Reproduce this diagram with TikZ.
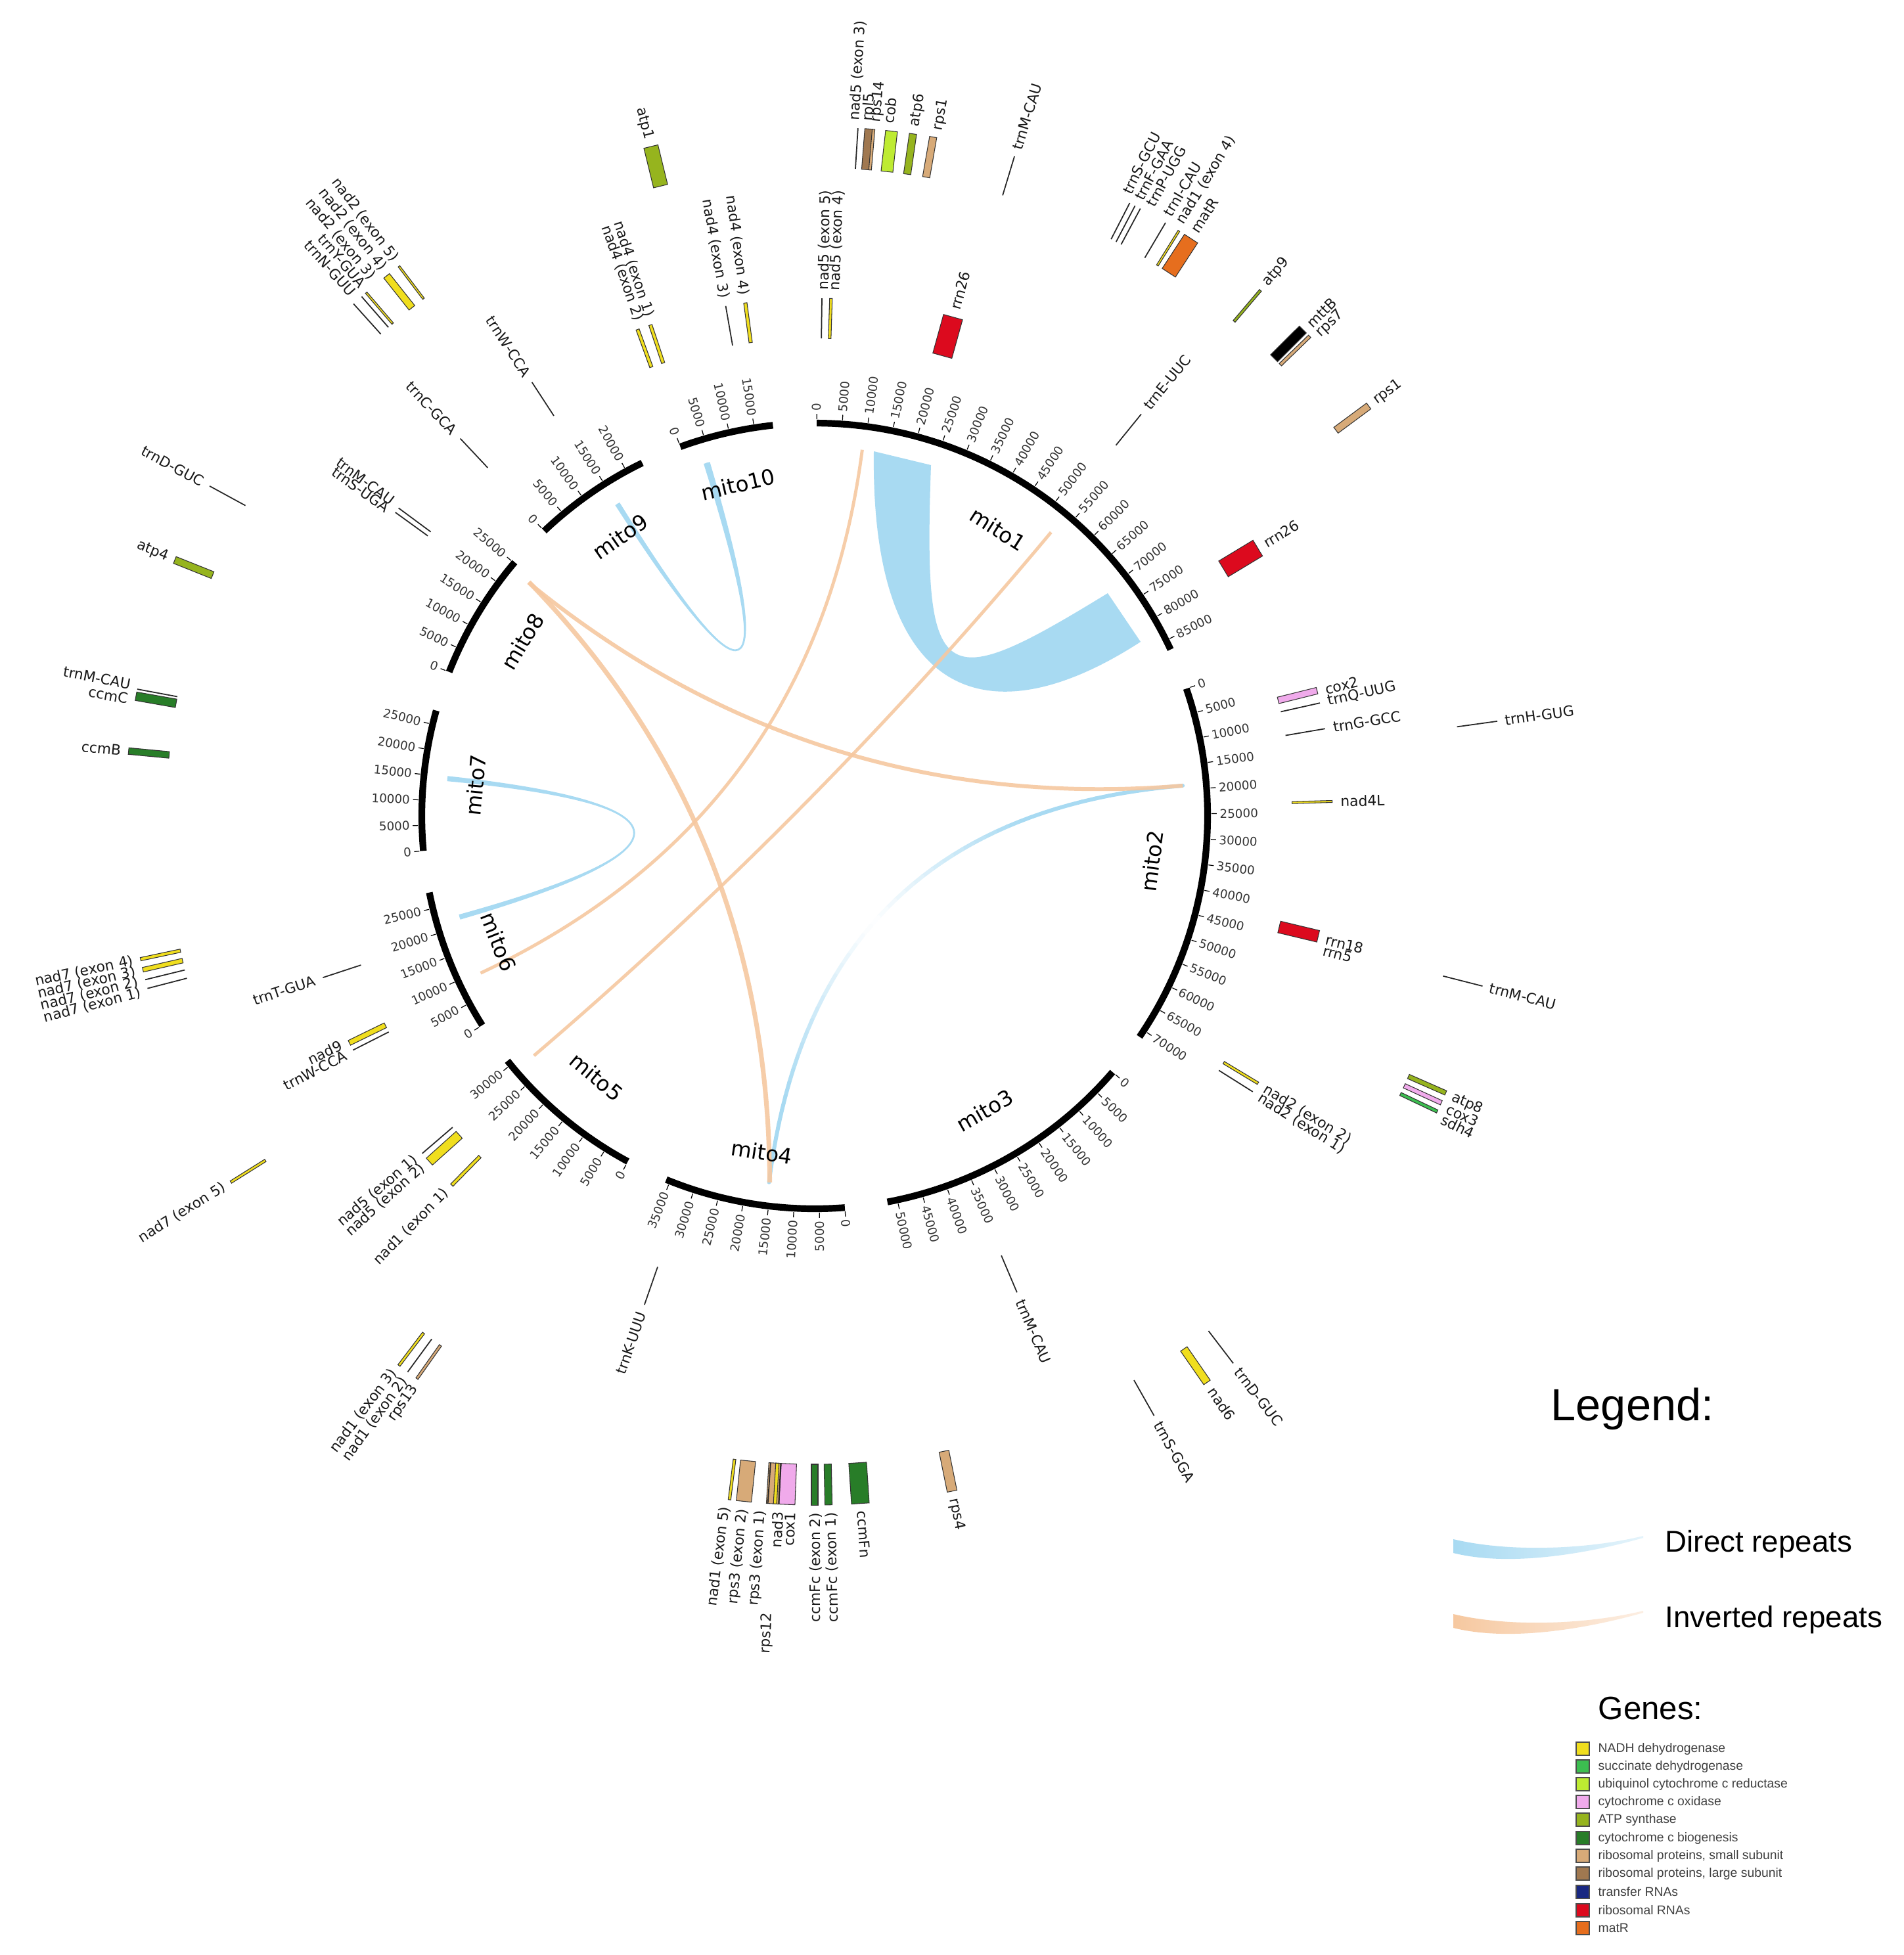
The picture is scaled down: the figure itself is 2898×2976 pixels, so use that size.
\documentclass[tikz,border=0pt]{standalone}
\usepackage{fontspec}
\setmainfont{DejaVu Sans}
\newfontfamily\legfont{Liberation Sans}
\usetikzlibrary{calc}
\definecolor{cNADH}{RGB}{240,222,30}
\definecolor{cSDH}{RGB}{60,190,80}
\definecolor{cUBI}{RGB}{190,235,50}
\definecolor{cCOX}{RGB}{240,170,235}
\definecolor{cATP}{RGB}{150,180,30}
\definecolor{cCCM}{RGB}{40,125,40}
\definecolor{cRPS}{RGB}{215,170,120}
\definecolor{cRPL}{RGB}{160,120,80}
\definecolor{cTRNA}{RGB}{25,40,130}
\definecolor{cRRNA}{RGB}{220,10,30}
\definecolor{cMATR}{RGB}{230,110,30}
\definecolor{cBlue}{RGB}{168,218,242}
\definecolor{cOrange}{RGB}{246,200,160}
\newcounter{nc}
\tikzset{
  gline/.style={line width=0.5pt, draw=black!85},
  gbox/.style={line width=0.3pt, draw=black!80},
  glab/.style={inner sep=0pt, font=\fontsize{6.2}{7}\selectfont, text=black!90},
  tickl/.style={inner sep=0pt, font=\fontsize{5.2}{6}\selectfont, text=black!80},
  mitol/.style={inner sep=0pt, font=\fontsize{9.2}{10}\selectfont},
  ringseg/.style={line width=2.9pt, line cap=butt},
  tickm/.style={line width=0.35pt},
  legt/.style={inner sep=0pt, font={\legfont\fontsize{19.5}{22}\selectfont}},
  legi/.style={inner sep=0pt, font={\legfont\fontsize{13}{15}\selectfont}},
  legg/.style={inner sep=0pt, font={\legfont\fontsize{14}{16}\selectfont}},
  legs/.style={inner sep=0pt, font={\legfont\fontsize{5.5}{6}\selectfont}, text=black!75},
  swatch/.style={draw=black!70, line width=0.4pt}
}
\def\Ai{727}\def\Ao{788}\def\Bi{987}\def\Bo{1049}\def\Al{800}\def\Bl{1060}
\newcommand\gbar[5]{\begin{scope}[rotate={90-(#1)}]\filldraw[gbox, fill=#5] (#2,{-(#4)/2}) rectangle (#3,{(#4)/2});\end{scope}}
\newcommand\gtr[3]{\draw[gline] ({#1-90}:#2) -- ({#1-90}:#3);}
\newcommand\labR[3]{\stepcounter{nc}\node[glab, rotate={90-(#1)}, anchor=west] (g\arabic{nc}) at ({#1-90}:#2) {#3};}
\newcommand\labL[3]{\stepcounter{nc}\node[glab, rotate={270-(#1)}, anchor=east] (g\arabic{nc}) at ({#1-90}:#2) {#3};}
\newcommand\segR[4]{%
  \pgfmathsetmacro\segend{#1+0.743*#2}
  \draw[ringseg] plot[domain=#1:\segend, samples=60] ({\x-90}:598);
  \foreach \t in {0,5,...,#3}{%
    \pgfmathsetmacro\tka{#1+0.743*\t}
    \draw[tickm] ({\tka-90}:604) -- ({\tka-90}:612);
    \ifnum\t=0 \def\tklab{0}\else\def\tklab{\t000}\fi
    \node[tickl, rotate={90-\tka}, anchor=west] (t#4-\t) at ({\tka-90}:616) {\tklab};
  }}
\newcommand\segL[4]{%
  \pgfmathsetmacro\segend{#1+0.743*#2}
  \draw[ringseg] plot[domain=#1:\segend, samples=60] ({\x-90}:598);
  \foreach \t in {0,5,...,#3}{%
    \pgfmathsetmacro\tka{#1+0.743*\t}
    \draw[tickm] ({\tka-90}:604) -- ({\tka-90}:612);
    \ifnum\t=0 \def\tklab{0}\else\def\tklab{\t000}\fi
    \node[tickl, rotate={270-\tka}, anchor=east] (t#4-\t) at ({\tka-90}:616) {\tklab};
  }}
\newcommand\rib[5]{\fill[#5] ({#1-90}:562) .. controls ({#1-90}:187.3) and ({#4-90}:187.3) .. ({#4-90}:562) -- ({#3-90}:562) .. controls ({#3-90}:187.3) and ({#2-90}:187.3) .. ({#2-90}:562) -- cycle;}
\newcommand\lnk[4]{\draw[#4, line width=#3] ({#1-90}:562) .. controls ({#1-90}:187.3) and ({#2-90}:187.3) .. ({#2-90}:562);}
\begin{document}
\begin{tikzpicture}[x=0.01cm, y=-0.01cm]
\fill[white] (0,0) rectangle (2898,2976);
\useasboundingbox (0,0) rectangle (2898,2976);
% big direct-repeat ribbon on mito1
\fill[cBlue] (1330,687) .. controls (1325,1060) and (1500,1130) .. (1736,977) -- (1686,903) .. controls (1430,1060) and (1405,1050) .. (1417,708) -- cycle;
\begin{scope}[shift={(1240,1242)}]
% links
\rib{327.3}{328.1}{342.5}{343.5}{cBlue}
\lnk{327.7}{343.0}{0.8pt}{cBlue}
\rib{253.7}{254.5}{275.4}{276.2}{cBlue}
\lnk{254.1}{275.8}{0.8pt}{cBlue}
% mito2 -> mito4 direct repeat, fading in its middle
\foreach \k in {0,...,47}{%
  \pgfmathsetmacro\tA{\k/48}
  \pgfmathsetmacro\tB{(\k+1)/48}
  \pgfmathsetmacro\xA{560.1*(1-\tA)^3+560.1*(1-\tA)^2*\tA-69.45*(1-\tA)*\tA^2-69.46*\tA^3}
  \pgfmathsetmacro\yA{0-46.05*(1-\tA)^3-46.05*(1-\tA)^2*\tA+557.7*(1-\tA)*\tA^2+557.7*\tA^3}
  \pgfmathsetmacro\xB{560.1*(1-\tB)^3+560.1*(1-\tB)^2*\tB-69.45*(1-\tB)*\tB^2-69.46*\tB^3}
  \pgfmathsetmacro\yB{0-46.05*(1-\tB)^3-46.05*(1-\tB)^2*\tB+557.7*(1-\tB)*\tB^2+557.7*\tB^3}
  \pgfmathtruncatemacro\pp{min(100,abs((\tA+\tB)/2-0.56)*320)}
  \draw[cBlue!\pp!white, line width=1.7pt, line cap=round] (\xA,\yA) -- (\xB,\yB);
}
\begin{scope}[opacity=0.9]
\lnk{85.3}{309.2}{1.7pt}{cOrange}
\lnk{7.4}{244.8}{1.4pt}{cOrange}
\lnk{39.8}{229.5}{1.4pt}{cOrange}
\draw[cOrange, line width=2pt] ({309.3-90}:562) .. controls (-191.9,-106.4) and (-69.5,197.9) .. ({187.0-90}:562);
\end{scope}
% ring
\segR{0.3}{87}{85}{mito1}
\segR{71.1}{71.5}{70}{mito2}
\segR{130.7}{52}{50}{mito3}
\segL{175.6}{35.8}{35}{mito4}
\segL{208.4}{31}{30}{mito5}
\segL{237.8}{28.2}{25}{mito6}
\segL{264.9}{27.8}{25}{mito7}
\segL{291.5}{25.2}{25}{mito8}
\segL{316.5}{23.5}{20}{mito9}
\segL{340.0}{18.7}{15}{mito10}
\node[mitol, rotate=-32.6] (m1) at ({32.6-90}:518) {mito1};
\node[mitol, rotate=82.35] (m2) at ({97.65-90}:518) {mito2};
\node[mitol, rotate=30] (m3) at ({150-90}:518) {mito3};
\node[mitol, rotate=-8.9] (m4) at ({188.9-90}:518) {mito4};
\node[mitol, rotate=-39.9] (m5) at ({219.9-90}:518) {mito5};
\node[mitol, rotate=-68.3] (m6) at ({248.3-90}:518) {mito6};
\node[mitol, rotate=84.8] (m7) at ({275.2-90}:518) {mito7};
\node[mitol, rotate=59.15] (m8) at ({300.85-90}:518) {mito8};
\node[mitol, rotate=34.8] (m9) at ({325.2-90}:518) {mito9};
\node[mitol, rotate=13.05] (m10) at ({346.95-90}:518) {mito10};
% genes, outer track
\gtr{3.6}{\Bi}{\Bo}
\gbar{4.5}{\Bi}{\Bo}{12}{cRPL}
\gbar{4.9}{\Bi}{\Bo}{4}{cRPS}
\gbar{6.4}{\Bi}{\Bo}{18}{cUBI}
\gbar{8.2}{\Bi}{\Bo}{11}{cATP}
\gbar{9.9}{\Bi}{\Bo}{11}{cRPS}
\gtr{16.85}{\Bi}{\Bo}
\gtr{27.2}{\Bi}{\Bo}\gtr{27.7}{\Bi}{\Bo}\gtr{28.2}{\Bi}{\Bo}
\gtr{30.6}{\Bi}{\Bo}
\gbar{31.9}{\Bi}{\Bo}{3}{cNADH}
\gbar{33.1}{\Bi}{\Bo}{24}{cMATR}
\gbar{40.3}{\Bi}{\Bo}{4}{cATP}
\gbar{45.1}{\Bi}{\Bo}{15}{black}
\gbar{45.9}{\Bi}{\Bo}{5}{cRPS}
\gbar{53.5}{\Bi}{\Bo}{11}{cRPS}
\gtr{82.1}{\Bi}{\Bo}
\gtr{104.3}{\Bi}{\Bo}
\gbar{113.7}{\Bi}{\Bo}{7}{cATP}
\gbar{114.6}{\Bi}{\Bo}{7}{cCOX}
\gbar{115.4}{\Bi}{\Bo}{5}{cSDH}
\gtr{142.6}{\Bi}{\Bo}
\gbar{145.3}{\Bi}{\Bo}{12}{cNADH}
\gtr{150.5}{\Bi}{\Bo}
\gbar{168.5}{\Bi}{\Bo}{15}{cRPS}
\gbar{176.2}{\Bi}{\Bo}{27}{cCCM}
\gbar{178.85}{\Bi}{\Bo}{11}{cCCM}
\gbar{180.0}{\Bi}{\Bo}{10}{cCCM}
\gbar{182.3}{\Bi}{\Bo}{24}{cCOX}
\gbar{183.5}{\Bi}{\Bo}{19}{cRPS}
\gbar{183.3}{\Bi}{\Bo}{5}{cNADH}
\gtr{183.0}{\Bi}{\Bo}\gtr{183.9}{\Bi}{\Bo}
\gbar{185.9}{\Bi}{\Bo}{23}{cRPS}
\gbar{187.1}{\Bi}{\Bo}{4}{cNADH}
\gbar{217.1}{\Bi}{\Bo}{4}{cNADH}
\gtr{216.2}{\Bi}{\Bo}
\gbar{215.25}{\Bi}{\Bo}{4}{cRPS}
\gbar{237.9}{\Bi}{\Bo}{4}{cNADH}
\gbar{258.0}{\Bi}{\Bo}{5}{cNADH}
\gbar{257.1}{\Bi}{\Bo}{7}{cNADH}
\gtr{256.25}{\Bi}{\Bo}
\gtr{255.5}{\Bi}{\Bo}
\gbar{275.4}{\Bi}{\Bo}{10}{cCCM}
\gtr{280.6}{\Bi}{\Bo}
\gbar{280.0}{\Bi}{\Bo}{13}{cCCM}
\gbar{291.8}{\Bi}{\Bo}{11}{cATP}
\gtr{298.6}{\Bi}{\Bo}
\gbar{322.9}{\Bi}{\Bo}{3}{cNADH}
\gbar{321.6}{\Bi}{\Bo}{11}{cNADH}
\gbar{319.4}{\Bi}{\Bo}{3}{cNADH}
\gtr{318.9}{\Bi}{\Bo}
\gtr{318.0}{\Bi}{\Bo}
\gbar{346.25}{\Bi}{\Bo}{22}{cATP}
% genes, inner track
\gtr{0.8}{\Ai}{\Ao}
\gbar{1.8}{\Ai}{\Ao}{4}{cNADH}
\gbar{15.5}{\Ai}{\Ao}{30}{cRRNA}
\gtr{39.1}{\Ai}{\Ao}
\gbar{58.85}{\Ai}{\Ao}{28}{cRRNA}
\gbar{76.0}{\Ai}{\Ao}{10}{cCOX}
\gtr{77.4}{\Ai}{\Ao}
\gtr{80.3}{\Ai}{\Ao}
\gbar{88.4}{\Ai}{\Ao}{3}{cNADH}
\gbar{103.45}{\Ai}{\Ao}{18}{cRRNA}
\gbar{121.1}{\Ai}{\Ao}{4}{cNADH}
\gtr{122.2}{\Ai}{\Ao}
\gtr{157.0}{\Ai}{\Ao}
\gtr{199.2}{\Ai}{\Ao}
\gbar{224.5}{\Ai}{\Ao}{5}{cNADH}
\gtr{229.3}{\Ai}{\Ao}
\gbar{228.1}{\Ai}{\Ao}{14}{cNADH}
\gbar{244.0}{\Ai}{\Ao}{8}{cNADH}
\gtr{243.1}{\Ai}{\Ao}
\gtr{251.8}{\Ai}{\Ao}
\gtr{306.5}{\Ai}{\Ao}
\gtr{305.9}{\Ai}{\Ao}
\gtr{316.8}{\Ai}{\Ao}
\gtr{326.9}{\Ai}{\Ao}
\gbar{341.5}{\Ai}{\Ao}{5}{cNADH}
\gbar{340.0}{\Ai}{\Ao}{5}{cNADH}
\gtr{350.1}{\Ai}{\Ao}
\gbar{352.3}{\Ai}{\Ao}{5}{cNADH}
% labels, outer track
\labR{3.3}{\Bl}{nad5 (exon 3)}
\labR{4.4}{\Bl}{rpl5}
\labR{5.1}{\Bl}{rps14}
\labR{6.1}{\Bl}{cob}
\labR{8.3}{\Bl}{atp6}
\labR{10.2}{\Bl}{rps1}
\labR{16.9}{\Bl}{trnM-CAU}
\labR{26.6}{\Bl}{trnS-GCU}
\labR{27.7}{\Bl}{trnF-GAA}
\labR{28.8}{\Bl}{trnP-UGG}
\labR{30.4}{\Bl}{trnI-CAU}
\labR{31.6}{\Bl}{nad1 (exon 4)}
\labR{33.0}{\Bl}{matR}
\labR{40.3}{\Bl}{atp9}
\labR{45.2}{\Bl}{mttB}
\labR{46.3}{\Bl}{rps7}
\labR{53.5}{\Bl}{rps1}
\labR{82.1}{\Bl}{trnH-GUG}
\labR{104.3}{\Bl}{trnM-CAU}
\labR{113.8}{\Bl}{atp8}
\labR{114.8}{\Bl}{cox3}
\labR{115.8}{\Bl}{sdh4}
\labR{142.6}{\Bl}{trnD-GUC}
\labR{145.3}{\Bl}{nad6}
\labR{150.5}{\Bl}{trnS-GGA}
\labR{168.5}{\Bl}{rps4}
\labR{176.1}{\Bl}{ccmFn}
\labL{178.65}{\Bl}{ccmFc (exon 1)}
\labL{179.9}{\Bl}{ccmFc (exon 2)}
\labL{182.0}{\Bl}{cox1}
\labL{183.0}{\Bl}{nad3}
\labL{184.4}{\Bl}{rps3 (exon 1)}
\labL{183.35}{1215}{rps12}
\labL{185.9}{\Bl}{rps3 (exon 2)}
\labL{187.4}{\Bl}{nad1 (exon 5)}
\labL{215.0}{\Bl}{rps13}
\labL{216.1}{\Bl}{nad1 (exon 2)}
\labL{217.2}{\Bl}{nad1 (exon 3)}
\labL{237.9}{\Bl}{nad7 (exon 5)}
\labL{255.3}{\Bl}{nad7 (exon 1)}
\labL{256.2}{\Bl}{nad7 (exon 2)}
\labL{257.1}{\Bl}{nad7 (exon 3)}
\labL{258.0}{\Bl}{nad7 (exon 4)}
\labL{275.4}{\Bl}{ccmB}
\labL{279.7}{\Bl}{ccmC}
\labL{280.9}{\Bl}{trnM-CAU}
\labL{291.8}{\Bl}{atp4}
\labL{298.6}{\Bl}{trnD-GUC}
\labL{318.5}{\Bl}{trnN-GUU}
\labL{319.6}{\Bl}{trnY-GUA}
\labL{320.6}{\Bl}{nad2 (exon 3)}
\labL{321.8}{\Bl}{nad2 (exon 4)}
\labL{323.0}{\Bl}{nad2 (exon 5)}
\labL{346.2}{\Bl}{atp1}
% labels, inner track
\labR{1.0}{\Al}{nad5 (exon 5)}
\labR{2.2}{\Al}{nad5 (exon 4)}
\labR{15.5}{\Al}{rrn26}
\labR{39.1}{\Al}{trnE-UUC}
\labR{58.85}{\Al}{rrn26}
\labR{76.1}{\Al}{cox2}
\labR{77.4}{\Al}{trnQ-UUG}
\labR{80.3}{\Al}{trnG-GCC}
\labR{88.4}{\Al}{nad4L}
\labR{103.6}{\Al}{rrn18}
\labR{104.8}{\Al}{rrn5}
\labR{121.2}{\Al}{nad2 (exon 2)}
\labR{122.3}{\Al}{nad2 (exon 1)}
\labR{157.0}{\Al}{trnM-CAU}
\labL{199.2}{\Al}{trnK-UUU}
\labL{224.5}{\Al}{nad1 (exon 1)}
\labL{228.2}{\Al}{nad5 (exon 2)}
\labL{229.4}{\Al}{nad5 (exon 1)}
\labL{243.0}{\Al}{trnW-CCA}
\labL{244.2}{\Al}{nad9}
\labL{251.8}{\Al}{trnT-GUA}
\labL{305.7}{\Al}{trnS-UGA}
\labL{306.7}{\Al}{trnM-CAU}
\labL{316.8}{\Al}{trnC-GCA}
\labL{326.9}{\Al}{trnW-CCA}
\labL{340.5}{\Al}{nad4 (exon 2)}
\labL{341.7}{\Al}{nad4 (exon 1)}
\labL{350.1}{\Al}{nad4 (exon 3)}
\labL{352.3}{\Al}{nad4 (exon 4)}
\end{scope}
% legend
\node[legt, anchor=base west] (legT) at (2360,2162) {Legend:};
\shade[left color=cBlue, right color=cBlue!30] (2212,2343) .. controls (2300,2364) and (2420,2358) .. (2501,2338) -- (2501,2341) .. controls (2420,2364) and (2300,2386) .. (2212,2364) -- cycle;
\node[legi, anchor=base west] (legD) at (2534,2362) {Direct repeats};
\shade[left color=cOrange, right color=cOrange!30] (2212,2457) .. controls (2300,2478) and (2420,2472) .. (2501,2452) -- (2501,2455) .. controls (2420,2478) and (2300,2500) .. (2212,2478) -- cycle;
\node[legi, anchor=base west] (legI) at (2534,2477) {Inverted repeats};
\node[legg, anchor=base west] (legG) at (2432,2617) {Genes:};
\foreach \yy/\cc/\tt [count=\i] in {2662/cNADH/NADH dehydrogenase, 2689/cSDH/succinate dehydrogenase, 2716/cUBI/ubiquinol cytochrome c reductase, 2743/cCOX/cytochrome c oxidase, 2770/cATP/ATP synthase, 2798/cCCM/cytochrome c biogenesis, 2825/cRPS/{ribosomal proteins, small subunit}, 2852/cRPL/{ribosomal proteins, large subunit}, 2880/cTRNA/transfer RNAs, 2908/cRRNA/ribosomal RNAs, 2935/cMATR/matR}{
  \filldraw[swatch, fill=\cc] (2399,\yy-10) rectangle (2419,\yy+10);
  \node[legs, anchor=west] (gl\i) at (2432,\yy) {\tt};
}
\end{tikzpicture}
\end{document}
